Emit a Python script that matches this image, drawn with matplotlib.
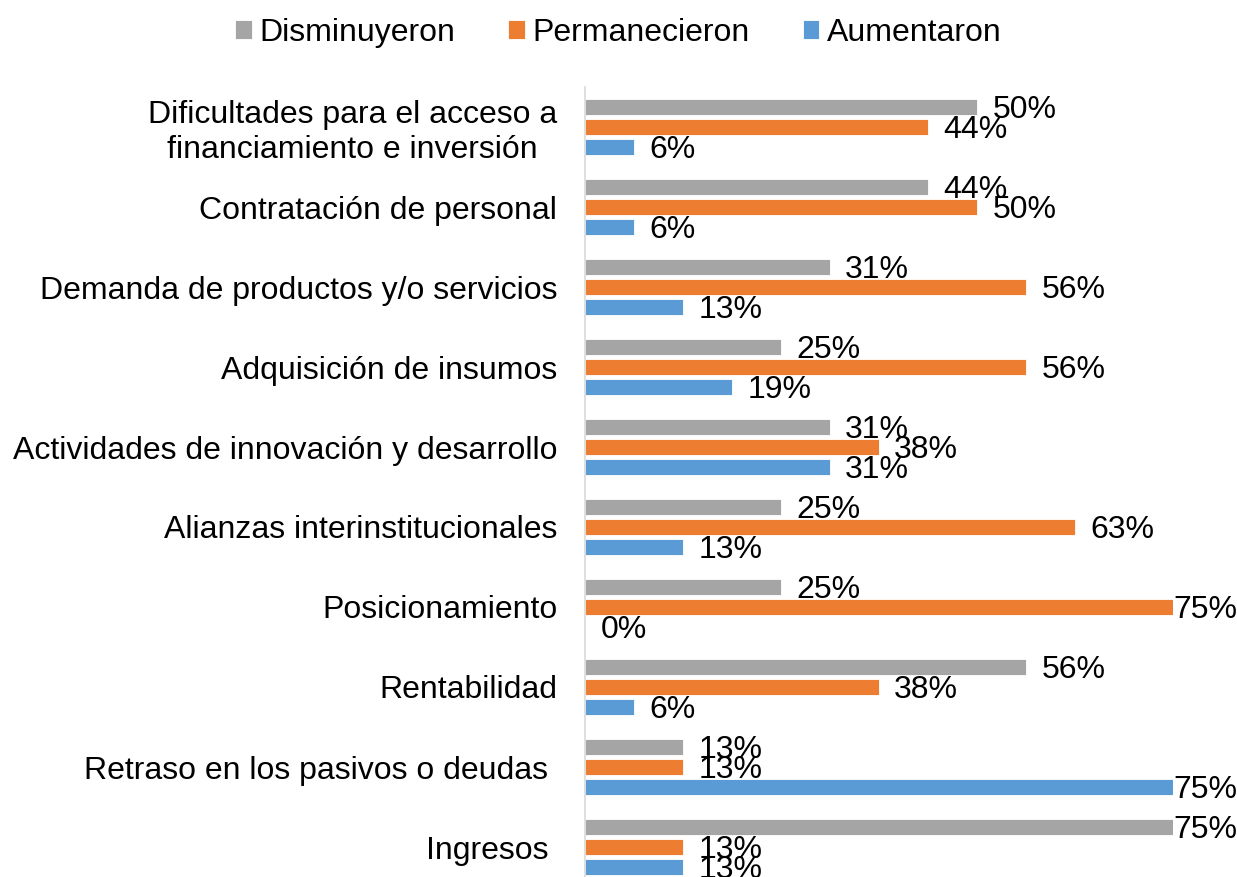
import numpy as np
import matplotlib
matplotlib.use('Agg')
import matplotlib.pyplot as plt

plt.rcParams['font.family'] = ['Liberation Sans', 'DejaVu Sans']

categorias = ['Dificultades para el acceso a\nfinanciamiento e inversión',
              'Contratación de personal',
              'Demanda de productos y/o servicios',
              'Adquisición de insumos',
              'Actividades de innovación y desarrollo',
              'Alianzas interinstitucionales',
              'Posicionamiento',
              'Rentabilidad',
              'Retraso en los pasivos o deudas ',
              'Ingresos ']
disminuyeron = [50, 43.75, 31.25, 25, 31.25, 25, 25, 56.25, 12.5, 75]
permanecieron = [43.75, 50, 56.25, 56.25, 37.5, 62.5, 75, 37.5, 12.5, 12.5]
aumentaron = [6.25, 6.25, 12.5, 18.75, 31.25, 12.5, 0, 6.25, 75, 12.5]
series = ['Disminuyeron', 'Permanecieron', 'Aumentaron']
colores = ['#A5A5A5', '#ED7D31', '#5B9BD5']

fig = plt.figure(figsize=(12.37, 8.77), dpi=100)
ax = fig.add_axes([585 / 1237, 0, 588 / 1237, 1 - 87 / 877])

y = np.arange(len(categorias))
xmax = 75
for k, (vals, nombre, col) in enumerate(zip([disminuyeron, permanecieron, aumentaron], series, colores)):
    pos = y + (k - 1) * 0.25
    ax.barh(pos, vals, height=0.21, color=col, edgecolor='white', linewidth=0.6, label=nombre)
    for p, v in zip(pos, vals):
        off = 0 if v >= xmax else 11
        ax.annotate('%d%%' % int(v + 0.5), (v, p), xytext=(off, -2), textcoords='offset points',
                    ha='left', va='center', fontsize=23, annotation_clip=False)

ax.set_xlim(0, xmax)
ax.set_ylim(9.375, -0.5)
ax.set_yticks(y)
ax.set_yticklabels(categorias, fontsize=23, multialignment='center')
ax.set_xticks([])
ax.tick_params(axis='y', length=0, pad=20)
for s in ['top', 'right', 'bottom']:
    ax.spines[s].set_visible(False)
ax.spines['left'].set_color('#D9D9D9')
ax.spines['left'].set_linewidth(1.2)

fig.legend(loc='center', bbox_to_anchor=(0.5, 1 - 33 / 877), ncol=3, frameon=False, fontsize=23,
           handlelength=0.52, handleheight=0.52, handletextpad=0.25, columnspacing=1.65)

fig.savefig('out.png', dpi=100)
